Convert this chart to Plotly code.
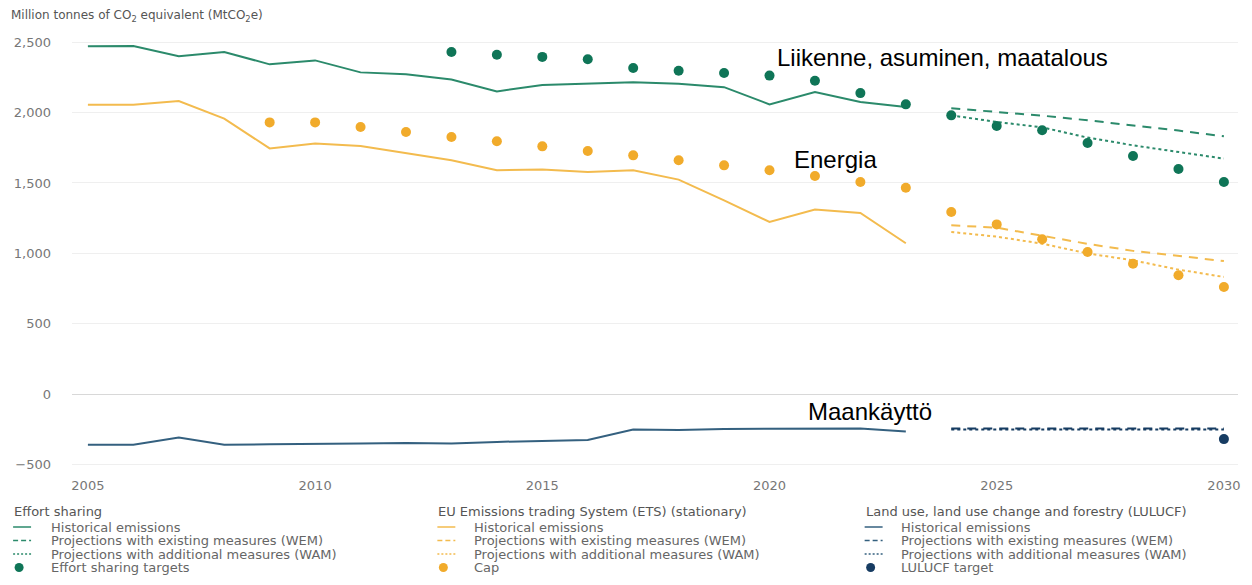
import plotly.graph_objects as go

# years
years_hist = list(range(2005, 2024))
years_proj = list(range(2024, 2031))
es_target_years = list(range(2013, 2031))
cap_years = list(range(2009, 2031))
lulucf_target_years = [2030]

# Effort sharing (MtCO2e)
es_hist = [2470, 2472, 2399, 2430, 2342, 2370, 2285, 2271, 2235, 2150,
           2195, 2205, 2215, 2205, 2180, 2058, 2146, 2075, 2039]
es_wem = [2030, 2005, 1978, 1945, 1910, 1872, 1831]
es_wam = [1980, 1933, 1895, 1822, 1767, 1722, 1673]
es_targets = [2430, 2410, 2395, 2378, 2316, 2297, 2280, 2262, 2226, 2138,
              2058, 1980, 1904, 1874, 1784, 1691, 1599, 1507]

# EU ETS (stationary)
ets_hist = [2056, 2056, 2082, 1957, 1745, 1780, 1762, 1710, 1661, 1590,
            1595, 1578, 1590, 1524, 1377, 1223, 1311, 1287, 1072]
ets_wem = [1199, 1183, 1125, 1068, 1018, 982, 946]
ets_wam = [1152, 1119, 1069, 1000, 951, 885, 833]
ets_cap = [1930, 1930, 1897, 1862, 1826, 1796, 1760, 1727, 1696, 1661, 1625,
           1590, 1549, 1507, 1466, 1294, 1206, 1100, 1010, 927, 845, 762]

# LULUCF
lulucf_hist = [-358, -358, -307, -358, -355, -355, -350, -345, -350, -338,
               -332, -324, -250, -254, -246, -246, -246, -243, -265]
lulucf_wem = [-243, -243, -243, -243, -243, -243, -243]
lulucf_wam = [-250, -250, -250, -250, -250, -250, -250]
lulucf_target = [-318]

# labels
y_ticks = [-500, 0, 500, 1000, 1500, 2000, 2500]
x_ticks = [2005, 2010, 2015, 2020, 2025, 2030]
group_titles = ["Effort sharing",
                "EU Emissions trading System (ETS) (stationary)",
                "Land use, land use change and forestry (LULUCF)"]
item_labels = ["Historical emissions",
               "Projections with existing measures (WEM)",
               "Projections with additional measures (WAM)"]
target_labels = ["Effort sharing targets", "Cap", "LULUCF target"]
overlay_labels = ["Liikenne, asuminen, maatalous", "Energia", "Maankäyttö"]

GREEN = "#2b8a6b"
GREEN_DOT = "#0f7557"
YELLOW = "#f3bb4e"
YELLOW_DOT = "#f1ab2b"
BLUE = "#34607f"
BLUE_DOT = "#173c62"

# page body has an 8px margin, so the figure is a bit smaller and shifted
OFF = 8
W, H = 1236, 569
L, T = 72 - OFF, 28 - OFF
R = W - (1240 - OFF)
B = H - (476 - OFF)
PW, PH = W - L - R, H - T - B


def px(x):
    return (x - OFF - L) / PW


def py(y):
    return (H - B - (y - OFF)) / PH


fig = go.Figure()


def add_line(x, y, color, dash="solid"):
    fig.add_trace(go.Scatter(x=x, y=y, mode="lines", showlegend=False,
                             line=dict(color=color, width=2, dash=dash)))


def add_dots(x, y, color):
    fig.add_trace(go.Scatter(x=x, y=y, mode="markers", showlegend=False,
                             marker=dict(color=color, size=10)))


add_line(years_hist, es_hist, GREEN)
add_line(years_proj, es_wem, GREEN, "9px,7px")
add_line(years_proj, es_wam, GREEN, "3px,3px")
add_dots(es_target_years, es_targets, GREEN_DOT)

add_line(years_hist, ets_hist, YELLOW)
add_line(years_proj, ets_wem, YELLOW, "9px,7px")
add_line(years_proj, ets_wam, YELLOW, "3px,3px")
add_dots(cap_years, ets_cap, YELLOW_DOT)

add_line(years_hist, lulucf_hist, BLUE)
add_line(years_proj, lulucf_wem, BLUE_DOT, "9px,7px")
add_line(years_proj, lulucf_wam, BLUE_DOT, "3px,3px")
add_dots(lulucf_target_years, lulucf_target, BLUE_DOT)

# overlay labels (data coordinates)
overlay_pos = [(2020.12, 2390), (2020.49, 1664), (2020.80, -121)]
annotations = []
for text, (ax, ay) in zip(overlay_labels, overlay_pos):
    annotations.append(dict(x=ax, y=ay, xref="x", yref="y", text=text,
                            showarrow=False, xanchor="left", yanchor="middle",
                            font=dict(family="Liberation Sans, Arial", size=24,
                                      color="black")))

# y axis title
annotations.append(dict(x=px(9), y=py(16), xref="paper", yref="paper",
                        text="Million tonnes of CO<sub>2</sub> equivalent (MtCO<sub>2</sub>e)",
                        showarrow=False, xanchor="left", yanchor="middle",
                        font=dict(family="DejaVu Sans", size=12, color="#555")))

# hand-drawn legend (three columns)
small = dict(family="DejaVu Sans", size=13, color="#666")
col_title_x = [12, 437, 865]
col_glyph_x = [13, 438, 866]
col_text_x = [49, 473, 900]
title_y = 511.5
row_y = [527, 540.5, 554, 567.5]
col_colors = [(GREEN, GREEN_DOT), (YELLOW, YELLOW_DOT), (BLUE, BLUE_DOT)]
glyph_dash = ["solid", "5px,3px", "2px,2px"]

shapes = []
for c in range(3):
    annotations.append(dict(x=px(col_title_x[c]), y=py(title_y), xref="paper",
                            yref="paper", text=group_titles[c], showarrow=False,
                            xanchor="left", yanchor="middle",
                            font=dict(small, color="#555")))
    labels = item_labels + [target_labels[c]]
    for i, lab in enumerate(labels):
        annotations.append(dict(x=px(col_text_x[c]), y=py(row_y[i]), xref="paper",
                                yref="paper", text=lab, showarrow=False,
                                xanchor="left", yanchor="middle", font=small))
        gx = col_glyph_x[c]
        if i < 3:
            shapes.append(dict(type="line", xref="paper", yref="paper",
                               x0=px(gx), x1=px(gx + 18), y0=py(row_y[i]), y1=py(row_y[i]),
                               line=dict(color=col_colors[c][0], width=1.5,
                                         dash=glyph_dash[i])))
        else:
            cx = gx + 6
            shapes.append(dict(type="circle", xref="paper", yref="paper",
                               x0=px(cx - 4.5), x1=px(cx + 4.5),
                               y0=py(row_y[i] + 4.5), y1=py(row_y[i] - 4.5),
                               fillcolor=col_colors[c][1], line=dict(width=0)))

fig.update_layout(
    width=W, height=H,
    margin=dict(l=L, r=R, t=T, b=B),
    paper_bgcolor="white", plot_bgcolor="white",
    showlegend=False,
    annotations=annotations,
    shapes=shapes,
    xaxis=dict(range=[2004.65, 2030.31], tickvals=x_ticks, showgrid=False,
               zeroline=False, showline=False, ticks="",
               tickfont=dict(family="DejaVu Sans", size=13, color="#777")),
    yaxis=dict(range=[-580, 2600], tickvals=y_ticks, tickformat=",",
               showgrid=True, gridcolor="#efefef", gridwidth=1,
               zeroline=True, zerolinecolor="#d8d8d8", zerolinewidth=1,
               ticks="", ticklabelstandoff=20,
               tickfont=dict(family="DejaVu Sans", size=13, color="#777")),
)

fig.write_html("out.html")
